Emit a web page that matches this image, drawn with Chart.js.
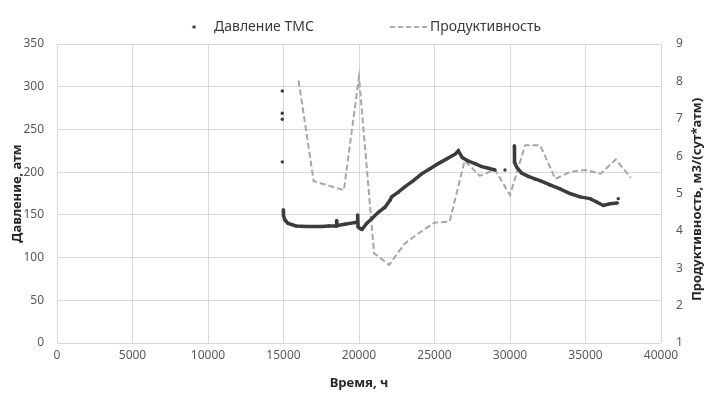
<!DOCTYPE html>
<html>
<head>
<meta charset="utf-8">
<script src="https://cdn.jsdelivr.net/npm/chart.js@4.4.1/dist/chart.umd.min.js"></script>
<style>
  html, body { margin: 0; padding: 0; background: #fff; }
  #wrap { width: 711px; height: 403px; }
</style>
</head>
<body>
<div id="wrap"><canvas id="chart" width="711" height="403"></canvas></div>
<script>
// Давление ТМС, атм (null = разрыв линии)
const pressureTime = [
    14920, 14920, 14920, 14920, 14920, 14920, 14920, 14920,
    14990, 15000, 15100, 15300, 15560, 15830, 16500, 17000, 17500, 18000,
    18480, 18520, 18560, 19070, 19400, 19730, 19880, 19910, 19940, 20070,
    20200, 20510, 20840, 21280, 21720, 22050, 22160, 22600, 23050, 23600,
    24150, 24700, 25250, 25810, 26360, 26580, 26840, 27240, 27680, 28130,
    28570, 29010, 29010, 29670, 29670,
    30290, 30300, 30440, 30770, 31210, 31650, 31990, 32650, 33310, 33970,
    34640, 35300, 35740, 36180, 36620, 37110, 37110, 37170
];
const pressureValue = [
    295, null, 269, null, 262, null, 212, null,
    156, 149, 144, 140, 138.5, 137, 136.5, 136.5, 136.5, 137,
    137, 143.5, 137.5, 139, 140, 141, 141, 150, 136, 134,
    133, 140, 145.5, 153, 159, 167, 171, 176.5, 183, 190,
    198, 204, 210, 215.5, 221, 225, 217, 213, 210, 206.5,
    204.5, 202.5, null, 202.5, null,
    231, 211.5, 206, 199, 195, 192, 190, 185, 180.5, 175,
    171, 169, 165, 161, 163, 164, null, 169
];

// Продуктивность, м3/(сут*атм)
const prodTime = [16000, 17000, 19000, 20000, 21000, 22000, 23000, 24000, 25000, 26000, 27000,
    28000, 29000, 30000, 31000, 32000, 33000, 34000, 35000, 36000, 37000, 38000];
const prodValue = [8.02, 5.33, 5.09, 8.12, 3.4, 3.09, 3.65, 3.95, 4.22, 4.25, 5.88,
    5.47, 5.64, 4.96, 6.29, 6.29, 5.39, 5.58, 5.63, 5.53, 5.91, 5.42];

const timeTicks = [0, 5000, 10000, 15000, 20000, 25000, 30000, 35000, 40000];
const pressureTicks = [0, 50, 100, 150, 200, 250, 300, 350];
const prodTicks = [1, 2, 3, 4, 5, 6, 7, 8, 9];

const FONT = "'Noto Sans', sans-serif";
const DARK = '#3c3c3c';
const DASH = '#a6a6a6';
const GRID = '#d9d9d9';
const TICK = '#595959';
const TITLE = '#262626';

Chart.defaults.font.family = FONT;

// legend layout: text starts wanted at these x positions
const legendTexts = ['Давление ТМС', 'Продуктивность'];
const legendSize = 14;
const textX1 = 214, textX2 = 430, dotX = 194, dashX = 408.5, dashLen = 37;

const mctx = document.createElement('canvas').getContext('2d');
mctx.font = legendSize + 'px ' + FONT;
const tw1 = mctx.measureText(legendTexts[0]).width;
const tw2 = mctx.measureText(legendTexts[1]).width;
const legPad = 711 - tw1 - tw2 - 2 * textX1;
const legBox = (textX2 - textX1 - tw1 - legendSize / 2) - legPad;
const legStart = (legPad + 711 - (2 * legBox + legendSize + tw1 + tw2 + 2 * legPad)) / 2;
const c1 = legStart + legBox / 2;
const c2 = legStart + legBox + legendSize / 2 + tw1 + legPad + legBox / 2;

function dotIcon(off) {
    const c = document.createElement('canvas');
    c.width = Math.ceil(2 * Math.abs(off) + 10);
    c.height = 10;
    const g = c.getContext('2d');
    g.fillStyle = DARK;
    g.beginPath();
    g.arc(c.width / 2 + off, 5, 1.8, 0, Math.PI * 2);
    g.fill();
    return c;
}

function dashIcon(off) {
    const c = document.createElement('canvas');
    c.width = Math.ceil(2 * Math.abs(off) + dashLen + 4);
    c.height = 4;
    const g = c.getContext('2d');
    g.strokeStyle = DASH;
    g.lineWidth = 2;
    g.setLineDash([5, 3]);
    g.beginPath();
    g.moveTo(c.width / 2 + off - dashLen / 2, 2);
    g.lineTo(c.width / 2 + off + dashLen / 2, 2);
    g.stroke();
    return c;
}

const legendIcons = [dotIcon(dotX - c1), dashIcon(dashX - c2)];

const rightTitle = {
    id: 'rightTitle',
    afterDraw(chart) {
        const ctx = chart.ctx;
        const area = chart.chartArea;
        ctx.save();
        ctx.translate(697, (area.top + area.bottom) / 2 + 6);
        ctx.rotate(-Math.PI / 2);
        ctx.font = 'bold 13px ' + FONT;
        ctx.fillStyle = TITLE;
        ctx.textAlign = 'center';
        ctx.textBaseline = 'middle';
        ctx.fillText('Продуктивность, м3/(сут*атм)', 0, 0);
        ctx.restore();
    }
};

function setTicks(list) {
    return scale => { scale.ticks = list.map(v => ({ value: v })); };
}

const plain = v => String(v);

const ctx = document.getElementById('chart').getContext('2d');
new Chart(ctx, {
    type: 'scatter',
    data: {
        datasets: [{
            label: legendTexts[0],
            data: pressureTime.map((t, i) => ({ x: t, y: pressureValue[i] })),
            yAxisID: 'y',
            showLine: true,
            borderColor: DARK,
            borderWidth: 3.5,
            backgroundColor: DARK,
            pointRadius: 1.7,
            pointBorderWidth: 0,
            pointBackgroundColor: DARK,
            spanGaps: false,
            order: 1
        }, {
            label: legendTexts[1],
            data: prodTime.map((t, i) => ({ x: t, y: prodValue[i] })),
            yAxisID: 'y1',
            showLine: true,
            borderColor: DASH,
            borderWidth: 2,
            borderDash: [6, 3],
            pointRadius: 0,
            order: 2
        }]
    },
    options: {
        responsive: false,
        animation: false,
        devicePixelRatio: 1,
        layout: { padding: { top: 20 - legPad, left: 0, right: 0, bottom: 0 } },
        plugins: {
            tooltip: { enabled: false },
            legend: {
                position: 'top',
                labels: {
                    usePointStyle: true,
                    pointStyleWidth: legBox,
                    padding: legPad,
                    color: DARK,
                    font: { size: legendSize },
                    generateLabels: () => legendTexts.map((t, i) => ({
                        text: t,
                        fillStyle: 'transparent',
                        strokeStyle: 'transparent',
                        lineWidth: 0,
                        pointStyle: legendIcons[i],
                        fontColor: DARK,
                        hidden: false,
                        datasetIndex: i
                    }))
                }
            }
        },
        scales: {
            x: {
                type: 'linear',
                min: timeTicks[0],
                max: timeTicks[timeTicks.length - 1],
                afterBuildTicks: setTicks(timeTicks),
                afterFit: s => { s.height = 60; },
                grid: { color: GRID, drawTicks: false },
                border: { display: false },
                ticks: { color: TICK, font: { size: 12 }, padding: 5, maxRotation: 0, callback: plain },
                title: {
                    display: true, text: 'Время, ч', color: TITLE,
                    font: { size: 13, weight: 'bold' },
                    padding: { top: 4, bottom: 12 }
                }
            },
            y: {
                type: 'linear',
                position: 'left',
                min: pressureTicks[0],
                max: pressureTicks[pressureTicks.length - 1],
                afterBuildTicks: setTicks(pressureTicks),
                afterFit: s => { s.width = 57; },
                grid: { color: GRID, drawTicks: false },
                border: { display: false },
                ticks: { color: TICK, font: { size: 12 }, padding: 13, callback: plain },
                title: {
                    display: true, text: 'Давление, атм', color: TITLE,
                    font: { size: 13, weight: 'bold' },
                    padding: { top: 9, bottom: 4 }
                }
            },
            y1: {
                type: 'linear',
                position: 'right',
                min: prodTicks[0],
                max: prodTicks[prodTicks.length - 1],
                afterBuildTicks: setTicks(prodTicks),
                afterFit: s => { s.width = 50; },
                grid: { display: false, drawTicks: false },
                border: { display: false },
                ticks: { color: TICK, font: { size: 12 }, padding: 15, callback: plain }
            }
        }
    },
    plugins: [rightTitle]
});
</script>
</body>
</html>
